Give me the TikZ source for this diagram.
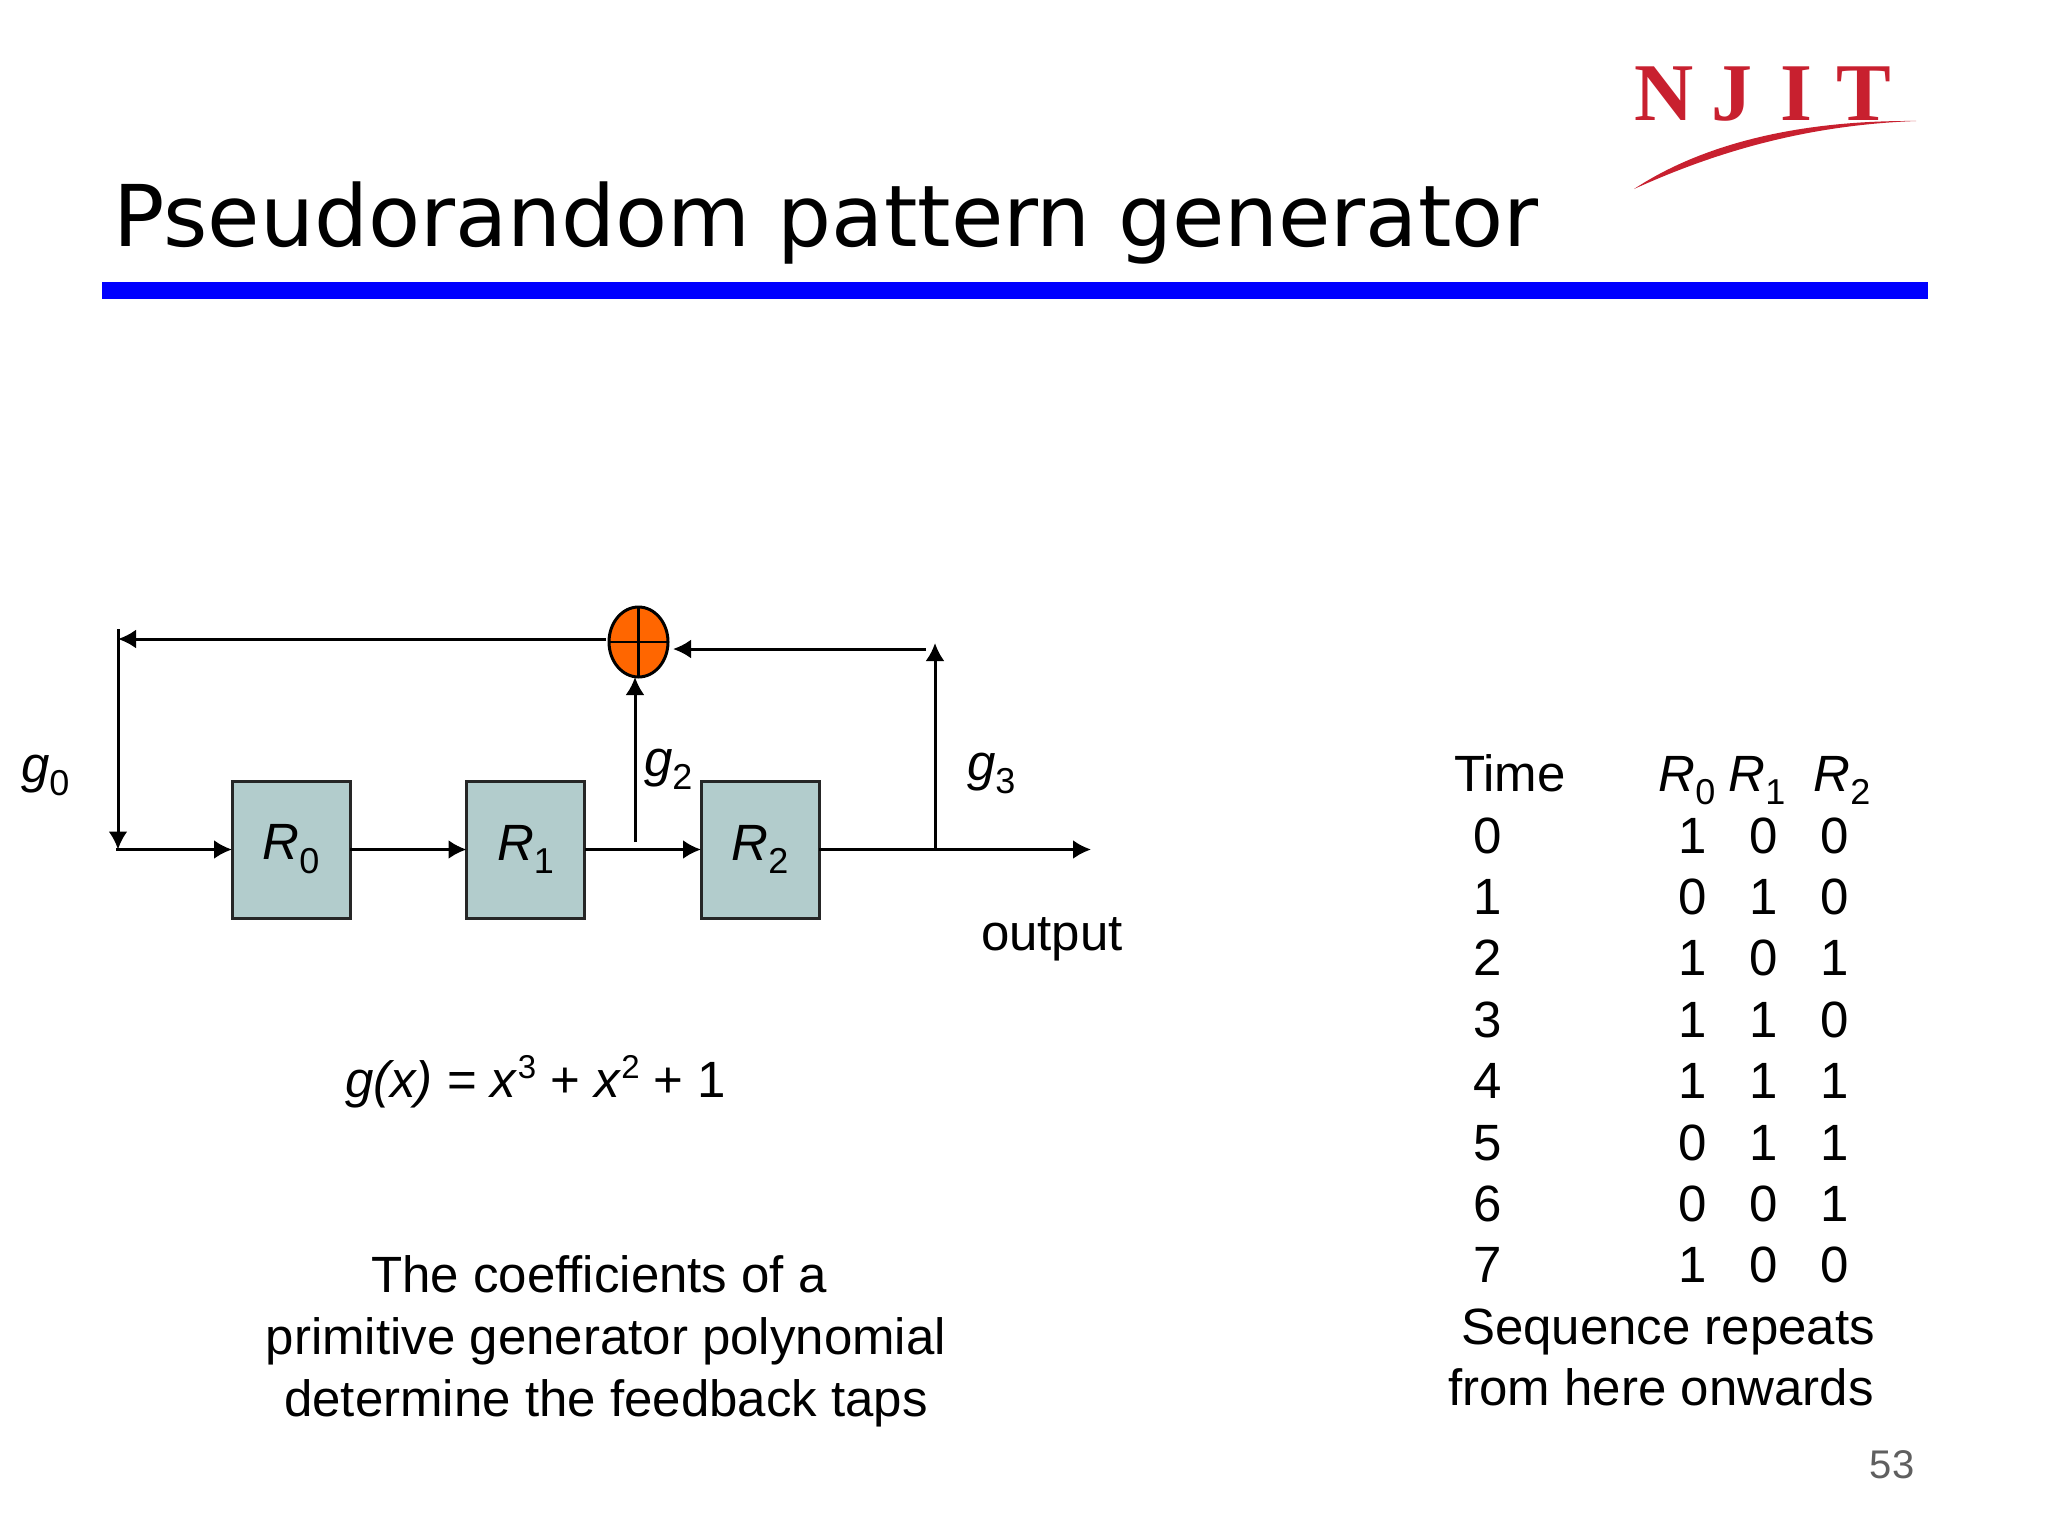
\documentclass[tikz,border=0pt]{standalone}
\usepackage{fontspec}
\setmainfont{Liberation Sans}
\newfontfamily\titlefont{DejaVu Sans}
\newfontfamily\logofont{Liberation Serif}
\usetikzlibrary{arrows.meta,shapes.geometric}
\definecolor{boxfill}{HTML}{B2CCCC}
\definecolor{xorfill}{HTML}{FF6600}
\definecolor{barblue}{HTML}{0000FF}
\definecolor{logored}{HTML}{C8202F}
\definecolor{pagegray}{HTML}{5F5F5F}
\newcommand{\mysub}[1]{\raisebox{-0.27em}{\fontsize{18}{20}\selectfont\upshape #1}}
\newcommand{\mysup}[1]{\raisebox{0.36em}{\fontsize{16.5}{20}\selectfont\upshape #1}}
\tikzset{
  body/.style={inner sep=0pt,outer sep=0pt,font=\fontsize{25.5}{30}\selectfont},
  cell/.style={body,anchor=base},
  reg/.style={draw=black!85,line width=1.5pt,fill=boxfill,minimum width=59pt,minimum height=68.5pt,inner sep=0pt,outer sep=0pt,font=\fontsize{25.5}{30}\selectfont\itshape},
  xorgate/.style={draw=black,line width=1.5pt,fill=xorfill,shape=ellipse,minimum width=29.5pt,minimum height=35pt,inner sep=0pt,outer sep=0pt,
    path picture={\draw[line width=1.4pt] (path picture bounding box.north)--(path picture bounding box.south);
      \draw[line width=1.4pt] (path picture bounding box.west)--(path picture bounding box.east);}},
  wire/.style={line width=1.5pt,draw=black},
  arr/.style={wire,-{Latex[length=9pt,width=9.5pt]}},
}
\begin{document}
\begin{tikzpicture}[x=0.5pt,y=-0.5pt]
\useasboundingbox (0,0) rectangle (2048,1536);
\fill[white] (0,0) rectangle (2048,1536);
% title and bar
\node[anchor=base west,inner sep=0pt,font=\titlefont\fontsize{42.6}{50}\selectfont] (title) at (113,246) {Pseudorandom pattern generator};
\fill[barblue] (102,282) rectangle (1928,299);
% logo
\node[anchor=base west,inner sep=0pt,text=logored,font=\logofont\bfseries\fontsize{41}{45}\selectfont] (logo) at (1634,120) {N\kern9pt J\kern14pt I\kern12pt T};
\fill[logored] (1634,189) .. controls (1690,152) and (1780,120) .. (1916,121) .. controls (1810,125) and (1720,150) .. (1634,189) -- cycle;
% registers
\node[reg] (r0) at (291,849.5) {R\mysub{0}};
\node[reg] (r1) at (525.5,849.5) {R\mysub{1}};
\node[reg] (r2) at (760,849.5) {R\mysub{2}};
\node[xorgate] (xor) at (638.5,642) {};
\coordinate (xorout) at (606,639);
\coordinate (fbtop) at (118,639);
\coordinate (fbstart) at (118,629);
\coordinate (fbend) at (118,849.5);
\coordinate (inl) at (116,849.5);
\coordinate (tapa) at (635,842);
\coordinate (tapain) at (635,677);
\coordinate (tapb) at (935,849.5);
\coordinate (tapbtop) at (935,643);
\coordinate (tapbl) at (926,649);
\coordinate (xorin) at (673,649);
\coordinate (outr) at (1091,849.5);
\draw[arr] (xorout) -- (fbtop);
\draw[arr] (fbstart) -- (fbend);
\draw[arr] (inl) -- (r0.west);
\draw[arr] (r0.east) -- (r1.west);
\draw[arr] (r1.east) -- (r2.west);
\draw[arr] (tapa) -- (tapain);
\draw[arr] (r2.east) -- (outr);
\draw[arr] (tapb) -- (tapbtop);
\draw[arr] (tapbl) -- (xorin);
% labels
\node[cell,anchor=base west,font=\fontsize{25.5}{30}\selectfont\itshape] (g0) at (21,782) {g\mysub{0}};
\node[cell,anchor=base west,font=\fontsize{25.5}{30}\selectfont\itshape] (g2) at (644,776) {g\mysub{2}};
\node[cell,anchor=base west,font=\fontsize{25.5}{30}\selectfont\itshape] (g3) at (967,780) {g\mysub{3}};
\node[cell,anchor=base west] (output) at (981,950) {output};
\node[cell,anchor=base west] (poly) at (345,1097) {\textit{g(x)} = \textit{x}\mysup{3} + \textit{x}\mysup{2} + 1};
\node[cell] (c1) at (599,1292) {The coefficients of a};
\node[cell] (c2) at (606,1354) {primitive generator polynomial};
\node[cell] (c3) at (606,1416) {determine the feedback taps};
% table
\node[cell,anchor=base west] (time) at (1454,791) {Time};
\node[cell,font=\fontsize{25.5}{30}\selectfont\itshape] (hr0) at (1687,791) {R\mysub{0}};
\node[cell,font=\fontsize{25.5}{30}\selectfont\itshape] (hr1) at (1757,791) {R\mysub{1}};
\node[cell,font=\fontsize{25.5}{30}\selectfont\itshape] (hr2) at (1842,791) {R\mysub{2}};
\foreach \t/\a/\b/\c [count=\i from 0] in {0/1/0/0,1/0/1/0,2/1/0/1,3/1/1/0,4/1/1/1,5/0/1/1,6/0/0/1,7/1/0/0}{
  \node[cell] (t\i) at (1488,853+61.4*\i) {\t};
  \node[cell] (a\i) at (1693,853+61.4*\i) {\a};
  \node[cell] (b\i) at (1764,853+61.4*\i) {\b};
  \node[cell] (d\i) at (1835,853+61.4*\i) {\c};
}
\node[cell] (s1) at (1668,1344) {Sequence repeats};
\node[cell] (s2) at (1661,1405) {from here onwards};
\node[cell,text=pagegray,font=\fontsize{20}{24}\selectfont] (page) at (1892,1478) {53};
\end{tikzpicture}
\end{document}
